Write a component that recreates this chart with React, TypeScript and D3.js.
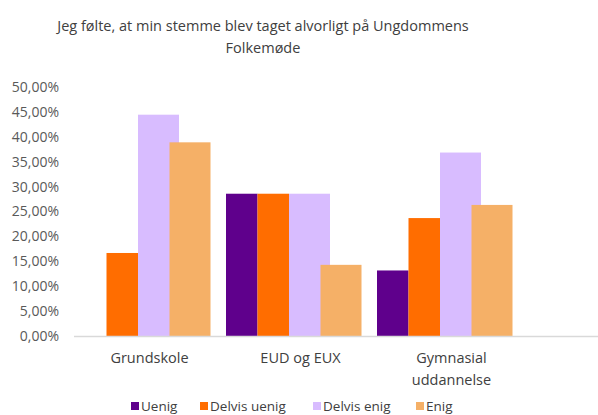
import React from "react";
import * as d3 from "d3";

const categories = ["Grundskole", "EUD og EUX", "Gymnasial uddannelse"];
const seriesNames = ["Uenig", "Delvis uenig", "Delvis enig", "Enig"];
const uenig = [0, 28.57, 13.16];
const delvisUenig = [16.67, 28.57, 23.68];
const delvisEnig = [44.44, 28.57, 36.84];
const enig = [38.89, 14.29, 26.32];
const yTicks = [0, 5, 10, 15, 20, 25, 30, 35, 40, 45, 50];
const titleLines = ["Jeg følte, at min stemme blev taget alvorligt på Ungdommens", "Folkemøde"];

const colors = ["#5f008c", "#ff6d00", "#d8bcff", "#f5b067"];
const barWidths = [31.5, 31.5, 41, 41];
const legendX = [131, 200, 313, 416];

export default function App() {
  const W = 598, H = 415;
  const values = [uenig, delvisUenig, delvisEnig, enig];
  const y = d3.scaleLinear().domain([0, 50]).range([336, 87]);
  const x0 = d3.scaleBand<string>().domain(categories).range([74, 527]);
  const x1 = d3.scaleBand<string>().domain(seriesNames).range([1, 127]);
  const font = "'Open Sans', sans-serif";
  const fmt = (v: number) => v.toFixed(2).replace(".", ",") + "%";

  return (
    <svg width={W} height={H} style={{ position: "absolute", left: 0, top: 0, background: "#fff" }}>
      {titleLines.map((t, i) => (
        <text key={i} x={263} y={31 + i * 22} textAnchor="middle" fontFamily={font} fontSize={14.5} fill="#404040">{t}</text>
      ))}
      {yTicks.map((t) => (
        <text key={t} x={59} y={y(t)} dy="0.35em" textAnchor="end" fontFamily={font} fontSize={14} fill="#595959">{fmt(t)}</text>
      ))}
      {categories.map((c, ci) => (
        <g key={c}>
          {seriesNames.map((s, si) => {
            const v = values[si][ci];
            if (v <= 0) return null;
            return (
              <rect key={s} x={(x0(c) as number) + (x1(s) as number)} y={y(v)} width={barWidths[si]} height={y(0) - y(v)} fill={colors[si]} />
            );
          })}
        </g>
      ))}
      <line x1={74} x2={598} y1={y(0) + 0.5} y2={y(0) + 0.5} stroke="#d9d9d9" strokeWidth={1.5} />
      {categories.map((c) => {
        const cx = (x0(c) as number) + x0.bandwidth() / 2;
        const words = c === "Gymnasial uddannelse" ? ["Gymnasial", "uddannelse"] : [c];
        return words.map((w, i) => (
          <text key={c + i} x={cx} y={363 + i * 22} textAnchor="middle" fontFamily={font} fontSize={14.5} fill="#404040">{w}</text>
        ));
      })}
      {seriesNames.map((s, i) => (
        <g key={s} transform={`translate(${legendX[i]},406)`}>
          <rect x={0} y={-4} width={8} height={8} fill={colors[i]} />
          <text x={10} y={0} dy="0.35em" fontFamily={font} fontSize={13.5} fill="#404040">{s}</text>
        </g>
      ))}
    </svg>
  );
}
